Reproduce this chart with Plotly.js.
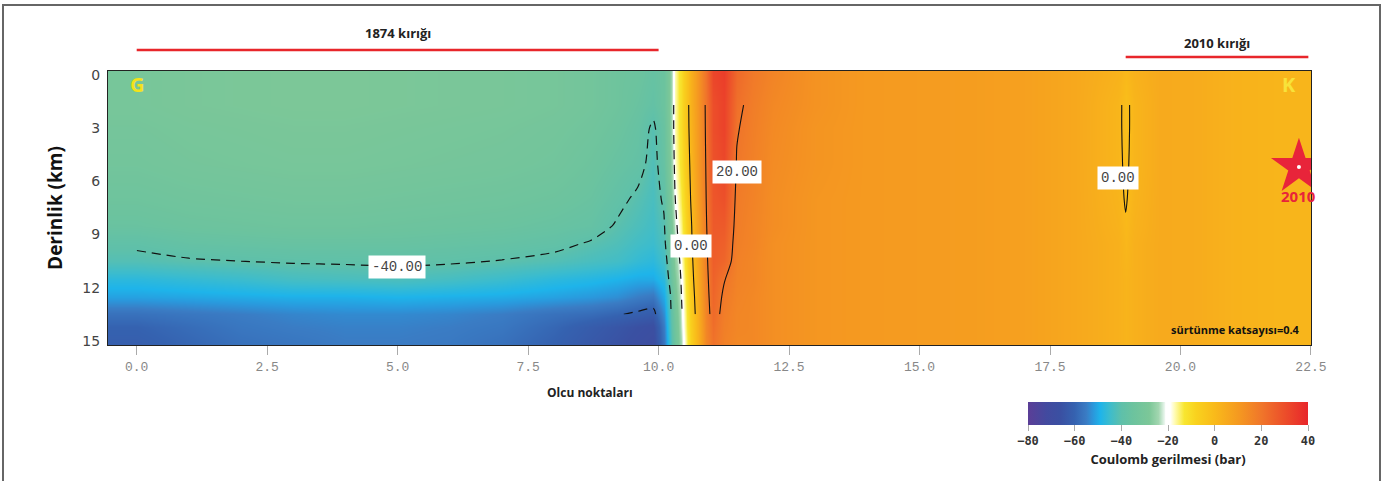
<!DOCTYPE html>
<html>
<head>
<meta charset="utf-8">
<script src="https://cdn.plot.ly/plotly-3.0.1.min.js"></script>
<style>html,body{margin:0;padding:0;background:#fff;}#chart{width:1398px;height:481px;}</style>
</head>
<body>
<div id="chart"></div>
<script>
// Profile positions (Olcu noktalari) and depths (km)
const xs = [-0.6, 0, 1, 2, 3, 4, 5, 6, 7, 8, 8.7, 9.2, 9.6, 9.9, 10.1, 10.22, 10.32, 10.42, 10.52, 10.62, 10.75, 10.9, 11.05, 11.25, 11.5, 11.8, 12.2, 13, 14, 15, 16, 17, 18, 18.8, 18.95, 19.1, 19.6, 20.3, 21, 22, 22.6];
const depths = [0, 1.7, 3, 5, 7, 8.5, 9.5, 10.5, 11.5, 12.5, 13.5, 14.2, 15];
// Coulomb stress (bar) depth profile at each profile position (same order as xs)
const profiles = [
  [-30,-30,-31,-32,-34,-36,-39,-41.5,-47,-51,-57,-60,-61],
  [-30,-30,-31,-32,-34,-36,-39,-41.5,-47,-51,-57,-60,-61],
  [-29,-29,-30,-31,-33,-35,-37.5,-40.5,-46,-50.5,-56,-58,-59],
  [-28.5,-28.5,-29.5,-30.5,-32.5,-34.5,-37,-40,-45,-50,-55,-56,-57],
  [-28,-28,-29,-30,-32,-34,-36.5,-39.5,-43.5,-49.5,-54,-55,-56],
  [-28,-28,-29,-30,-32,-34,-36.5,-39.3,-43,-49.5,-53.5,-54.5,-55],
  [-28.5,-28.5,-29.5,-30.5,-32.5,-34.5,-36.5,-39,-42.5,-49,-53.5,-54.5,-55],
  [-29,-29,-30,-31,-33,-35,-37,-39.3,-43.5,-49.5,-54,-55,-55.5],
  [-29.5,-29.5,-30.5,-31.5,-33.5,-35.5,-37.5,-40.2,-45,-50,-55,-56,-57],
  [-30.5,-30.5,-31.5,-32.5,-34.5,-36.5,-38.5,-41.5,-47,-51,-57,-59,-60],
  [-32,-32,-33,-34.5,-36,-37.5,-40.5,-43,-48,-52,-58,-62,-63],
  [-34,-34,-35,-36.5,-38.5,-40.5,-42,-44,-49,-53,-59.5,-64,-65],
  [-35,-36,-37,-38,-41,-42.5,-44,-46,-50,-55,-61,-66,-67],
  [-37,-38,-41,-42,-43,-44,-45,-47,-50,-56,-62,-67,-68],
  [-35,-35,-36,-37,-39,-41,-42,-44,-47,-50,-53,-55,-56],
  [-27,-27,-27,-28,-30,-32,-34,-36,-38,-41,-42,-43,-44],
  [-17,-17,-17,-18,-20,-22,-24,-26,-28,-30,-32,-33,-34],
  [-11,-11,-11,-12,-14,-16,-17,-19,-20.5,-21.5,-22.5,-23,-24],
  [-4,-4,-4,-5,-7,-8.5,-9.5,-11,-12.5,-13.5,-14.5,-15,-16],
  [3,3,2.5,1.5,0.5,-1,-1.5,-2.5,-3.5,-5,-6,-6.5,-7],
  [11,11,10.5,10,9,8,7.5,6.5,5.5,4.5,3.5,3,2.5],
  [21,20.5,20.3,19.8,19.3,18.8,18.3,17.8,17.3,16.8,16.3,15.8,15.3],
  [32,30,30,29,28,27,26.5,26,25,24,23,22,21],
  [34,33,33,31.5,29.5,27,25.5,24,20.5,19,18,17.5,17],
  [23,21.5,20.5,19.5,18.5,18,17.5,17,16.5,16,15.5,15.5,15],
  [19,18,17.5,17,16.5,16,16,15.5,15.5,15,15,15,15],
  [16,15,14.5,14,13.5,13.5,13,13,13,13,13,13,13],
  [12,12,11.5,11.5,11,11,11,11,11,11,11,11,11],
  [10,10,10,10,10,10,10,10,10,10,10,10,10],
  [9.5,9.5,9.5,9.5,9.5,9.5,9.5,9.5,9.5,9.5,9.5,9.5,9.5],
  [9,9,9,9,9,9,9,9,9,9,9,9,9],
  [8,8,8,8,8,8,8,8,8,8,8,8,8],
  [5.5,5.5,5.5,5.5,5.5,5.5,5.5,5.5,5.5,5.5,5.5,5.5,5.5],
  [2.5,1.5,1.5,1.5,2,2.5,3,3,3,3,3,3,3],
  [0.5,-1.5,-1.5,-1,-0.5,0.5,1,1.5,2,2,2,2,2],
  [2.5,1.5,1.5,1.5,2,2.5,3,3,3,3,3,3,3],
  [5,5,5,5,5,5,5,5,5,5,5,5,5],
  [4.5,4.5,4.5,4.5,4.5,4.5,4.5,4.5,4.5,4.5,4.5,4.5,4.5],
  [2.5,2.5,2.5,2.5,2.5,2.5,2.5,2.5,2.5,2.5,2.5,2.5,2.5],
  [1.5,1.5,1.5,1.5,1.5,1.5,1.5,1.5,1.5,1.5,1.5,1.5,1.5],
  [1.5,1.5,1.5,1.5,1.5,1.5,1.5,1.5,1.5,1.5,1.5,1.5,1.5]
];
// Contour labels
const labelText = ['-40.00', '20.00', '0.00', '0.00'];
const labelX = [4.99, 11.5, 10.63, 18.81];
const labelY = [10.83, 5.5, 9.64, 5.8];
// Ruptures and 2010 event
const rupture1874 = [0, 10];
const rupture2010 = [18.95, 22.45];
const event2010X = [22.27];
const event2010Depth = [5.2];
const cbTicks = [-80, -60, -40, -20, 0, 20, 40];

// build z (rows = depths, cols = xs)
const z = depths.map((d, i) => profiles.map(p => p[i]));
// contour subgrid (depth 1.7..13.5, x 0..22)
const cRows = [1,2,3,4,5,6,7,8,9,10];
const cX = xs.slice(1, xs.length - 1);
const cY = cRows.map(i => depths[i]);
const cZ = cRows.map(i => z[i].slice(1, xs.length - 1));

const zmin = -80, zmax = 40;
function f(v){ return (v - zmin) / (zmax - zmin); }
const colorscale = [
  [f(-80), '#5b3e97'], [f(-72), '#424a9f'], [f(-66), '#3a50a2'], [f(-60), '#3562b0'], [f(-55), '#3a7cc4'],
  [f(-52), '#2a98dc'], [f(-49), '#1eb4ea'], [f(-45), '#3cbccd'], [f(-40), '#5ec0aa'],
  [f(-35), '#6cc39e'], [f(-28), '#7cc798'], [f(-24), '#a2d6b0'], [f(-21.5), '#e8f5ec'], [f(-21), '#ffffff'],
  [f(-19), '#ffffff'], [f(-17), '#fffbb0'], [f(-13), '#f8e630'], [f(-8), '#f9d21e'],
  [f(0), '#f9ba1a'], [f(10), '#f59a20'], [f(20), '#f0762a'], [f(30), '#ec4e2a'], [f(40), '#e8262b']
];

const plotL = 108, plotR = 1311, plotT = 71, plotB = 345;
const W = 1398, H = 481;
const pw = plotR - plotL, ph = plotB - plotT;
const px = v => (v - plotL) / pw;
const py = v => (plotB - v) / ph;

const heat = {
  type: 'heatmap', x: xs, y: depths, z: z, zmin: zmin, zmax: zmax,
  zsmooth: 'best', colorscale: colorscale, hoverinfo: 'skip',
  colorbar: {
    orientation: 'h', x: px(1168), xanchor: 'center', y: py(402), yanchor: 'top',
    len: 300, lenmode: 'pixels', thickness: 23, outlinewidth: 0, xpad: 10, ypad: 0,
    tickmode: 'array', tickvals: cbTicks, ticks: 'outside', ticklen: 6, tickcolor: '#aaa',
    tickfont: {family: 'DejaVu Sans Mono', size: 12, color: '#333', weight: 'bold'},
    title: {text: 'Coulomb gerilmesi (bar)', side: 'bottom', font: {family: 'Open Sans', size: 13, color: '#222', weight: 'bold'}}
  }
};
const contNeg = {
  type: 'contour', x: cX, y: cY, z: cZ, autocontour: false, showscale: false, hoverinfo: 'skip',
  contours: {start: -60, end: -20, size: 20, coloring: 'none', showlabels: false},
  line: {color: '#111', width: 1.2, dash: '9px,6px', smoothing: 0.8}
};
const contPos = {
  type: 'contour', x: cX, y: cY, z: cZ, autocontour: false, showscale: false, hoverinfo: 'skip',
  contours: {start: 0, end: 20, size: 20, coloring: 'none', showlabels: false},
  line: {color: '#111', width: 1.1, dash: 'solid', smoothing: 0.8}
};
const star = {
  type: 'scatter', mode: 'markers', x: event2010X, y: event2010Depth, hoverinfo: 'skip',
  marker: {symbol: 'star', size: 42, color: '#e8243a', line: {width: 0}}, showlegend: false
};
const starDot = {
  type: 'scatter', mode: 'markers', x: event2010X, y: event2010Depth, hoverinfo: 'skip',
  marker: {symbol: 'circle', size: 4, color: '#ffffff'}, showlegend: false
};

const annotations = labelText.map((t, i) => ({
  x: labelX[i], y: labelY[i], xref: 'x', yref: 'y', text: t, showarrow: false,
  bgcolor: '#ffffff', borderpad: 3, font: {family: 'Liberation Mono', size: 14, color: '#444'}
}));
annotations.push(
  {x: (rupture1874[0] + rupture1874[1]) / 2, y: py(33), xref: 'x', yref: 'paper', yanchor: 'middle', text: '1874 kırığı', showarrow: false,
   font: {family: 'Open Sans', size: 13, color: '#222', weight: 'bold'}},
  {x: (rupture2010[0] + rupture2010[1]) / 2, y: py(43), xref: 'x', yref: 'paper', yanchor: 'middle', text: '2010 kırığı', showarrow: false,
   font: {family: 'Open Sans', size: 13, color: '#222', weight: 'bold'}},
  {x: px(128), y: py(84), xref: 'paper', yref: 'paper', yanchor: 'middle', text: 'G', showarrow: false,
   font: {family: 'Open Sans', size: 20, color: '#f3e21c', weight: 'bold'}},
  {x: px(1298), y: py(84), xref: 'paper', yref: 'paper', yanchor: 'middle', text: 'K', showarrow: false,
   font: {family: 'Open Sans', size: 20, color: '#f8e23a', weight: 'bold'}},
  {x: event2010X[0], y: event2010Depth[0] + 1.6, xref: 'x', yref: 'y', text: '2010', showarrow: false,
   font: {family: 'Open Sans', size: 15, color: '#e8243a', weight: 'bold'}},
  {x: px(1302), y: py(329), xref: 'paper', yref: 'paper', xanchor: 'right', yanchor: 'middle', text: 'sürtünme katsayısı=0.4', showarrow: false,
   font: {family: 'Open Sans', size: 11, color: '#111', weight: 'bold'}},
  {x: px(590), y: py(392), xref: 'paper', yref: 'paper', yanchor: 'middle', text: 'Olcu noktaları', showarrow: false,
   font: {family: 'Open Sans', size: 12, color: '#222', weight: 'bold'}}
);

const shapes = [
  {type: 'line', xref: 'x', yref: 'paper', x0: rupture1874[0], x1: rupture1874[1], y0: py(50), y1: py(50),
   line: {color: '#e8262b', width: 2.5}},
  {type: 'line', xref: 'x', yref: 'paper', x0: rupture2010[0], x1: rupture2010[1], y0: py(57), y1: py(57),
   line: {color: '#e8262b', width: 2.5}},
  {type: 'rect', xref: 'paper', yref: 'paper', x0: px(3), x1: px(1380), y0: py(600), y1: py(5),
   line: {color: '#666', width: 2}, fillcolor: 'rgba(0,0,0,0)', layer: 'above'}
];

const layout = {
  width: W, height: H, autosize: false,
  margin: {l: plotL, r: W - plotR, t: plotT, b: H - plotB, pad: 0, autoexpand: false},
  paper_bgcolor: '#ffffff', plot_bgcolor: '#ffffff', showlegend: false,
  xaxis: {
    range: [-0.55, 22.501], tickmode: 'linear', tick0: 0, dtick: 2.5, tickformat: '.1f',
    ticks: 'outside', ticklen: 9, tickcolor: '#aaa', showgrid: false, zeroline: false,
    showline: true, mirror: true, linecolor: '#222', linewidth: 1,
    tickfont: {family: 'Liberation Mono', size: 13, color: '#888'}, automargin: false
  },
  yaxis: {
    range: [15.23, -0.22], tickmode: 'array', tickvals: [0, 3, 6, 9, 12, 15],
    ticks: '', showgrid: false, zeroline: false, showline: true, mirror: true, linecolor: '#222', linewidth: 1,
    tickfont: {family: 'DejaVu Sans', size: 14, color: '#444'}, ticklabelstandoff: 4, automargin: false,
    title: {text: 'Derinlik (km)', standoff: 14, font: {family: 'Open Sans', size: 19, color: '#111', weight: 'bold'}}
  },
  annotations: annotations,
  shapes: shapes
};

Plotly.newPlot('chart', [heat, contNeg, contPos, star, starDot], layout, {displayModeBar: false, staticPlot: true});
</script>
</body>
</html>
